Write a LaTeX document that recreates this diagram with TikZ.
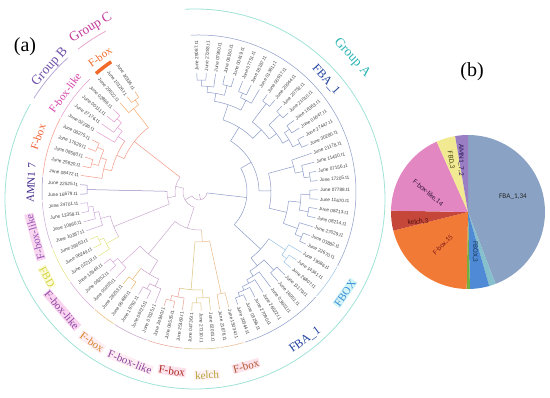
\documentclass[tikz,border=0pt]{standalone}
\usepackage{fontspec}
\setmainfont{Liberation Serif}
\setsansfont{Liberation Sans}
\newfontfamily\piefont{Carlito}

% leaf stem: style, leaf index, parent radius
\newcommand{\lf}[3]{\draw[#1] ({91-4.5*(#2-1)}:#3) -- ({91-4.5*(#2-1)}:\rt);}
% inner node: style, position, parent radius, radius, first child, last child
\newcommand{\nd}[6]{%
  \pgfmathsetmacro\nda{91-4.5*(#5-1)}%
  \pgfmathsetmacro\ndb{91-4.5*(#6-1)}%
  \draw[#1] ({91-4.5*(#2-1)}:#3) -- ({91-4.5*(#2-1)}:#4);
  \draw[#1] (\nda:#4) arc[start angle=\nda, end angle=\ndb, radius=#4];}

\begin{document}
\begin{tikzpicture}[x=1pt, y=1pt, line width=0.5pt,
    leaf/.style={font=\sffamily\fontsize{4.7}{5}\selectfont, text=black!75, inner sep=0pt},
    sublab/.style={font=\fontsize{11}{11}\selectfont, inner sep=0.8pt},
    grouplab/.style={font=\fontsize{13.5}{13.5}\selectfont, inner sep=0pt},
    pielab/.style={font=\piefont\fontsize{7.2}{7.2}\selectfont, inner sep=0pt}]

% --- parameters ---
\def\rt{119}    % leaf tip radius
\def\rl{121}    % leaf label radius
\def\rs{157}    % subfamily arc radius
\def\rg{190}    % group ring radius
\def\pr{77}     % pie radius

% --- colors ---
\definecolor{fbacol}{RGB}{140,155,201}
\definecolor{fboxcol}{RGB}{156,195,230}
\definecolor{tancol}{RGB}{232,184,136}
\definecolor{kelchcol}{RGB}{217,194,122}
\definecolor{fbrcol}{RGB}{232,160,144}
\definecolor{fblcol}{RGB}{201,160,204}
\definecolor{fbocol}{RGB}{235,184,110}
\definecolor{fblpcol}{RGB}{216,168,216}
\definecolor{fbdcol}{RGB}{226,226,130}
\definecolor{fbl2col}{RGB}{200,168,216}
\definecolor{amncol}{RGB}{154,136,192}
\definecolor{fborcol}{RGB}{243,154,134}
\definecolor{fblmcol}{RGB}{227,154,208}
\definecolor{fbtopcol}{RGB}{245,168,106}
\definecolor{innercol}{RGB}{200,170,204}
\definecolor{ringA}{RGB}{160,226,214}
\definecolor{ringB}{RGB}{184,168,216}
\definecolor{ringC}{RGB}{232,168,208}
\definecolor{pinkbg}{RGB}{253,227,236}
% label colors
\definecolor{grpAtxt}{RGB}{43,179,179}
\definecolor{grpBtxt}{RGB}{111,79,168}
\definecolor{grpCtxt}{RGB}{194,57,154}
\definecolor{fbatxt}{RGB}{31,63,159}
\definecolor{fboxtxt}{RGB}{61,143,214}
\definecolor{fboxbg}{RGB}{210,244,246}
\definecolor{fbAtxt}{RGB}{178,85,46}
\definecolor{kelchtxt}{RGB}{181,162,50}
\definecolor{fbBtxt}{RGB}{168,36,31}
\definecolor{fblAtxt}{RGB}{138,63,154}
\definecolor{fbCtxt}{RGB}{217,131,42}
\definecolor{fblBtxt}{RGB}{141,68,163}
\definecolor{fblBbg}{RGB}{249,211,239}
\definecolor{fbdtxt}{RGB}{212,210,60}
\definecolor{fbdbg}{RGB}{251,251,216}
\definecolor{fblCtxt}{RGB}{149,82,181}
\definecolor{fblCbg}{RGB}{249,214,240}
\definecolor{amntxt}{RGB}{63,36,136}
\definecolor{fbDtxt}{RGB}{240,90,42}
\definecolor{fblDtxt}{RGB}{209,61,166}
\definecolor{fbEtxt}{RGB}{242,106,43}
% pie colors
\definecolor{pieFBA}{RGB}{138,162,196}
\definecolor{pieTeal}{RGB}{134,192,204}
\definecolor{pieFBOX}{RGB}{79,138,214}
\definecolor{pieGreen}{RGB}{111,176,64}
\definecolor{pieFbox}{RGB}{240,122,54}
\definecolor{pieKelch}{RGB}{196,71,58}
\definecolor{pieFbl}{RGB}{227,135,195}
\definecolor{pieFBD}{RGB}{242,234,146}
\definecolor{pieAMN}{RGB}{154,126,196}

\useasboundingbox (0,0) rectangle (550,398);

\coordinate (T) at (199,206);   % tree centre
\coordinate (R) at (195,199);   % ring centre
\coordinate (P) at (468,186);   % pie centre

% --- tree ---
\begin{scope}[shift={(T)}]
% FBA_1, upper block
\lf{fbacol}{1}{112} \lf{fbacol}{2}{112} \nd{fbacol}{1.5}{106}{112}{1}{2}
\lf{fbacol}{3}{106} \nd{fbacol}{2.25}{100}{106}{1.5}{3}
\lf{fbacol}{4}{110} \lf{fbacol}{5}{110} \nd{fbacol}{4.5}{100}{110}{4}{5}
\nd{fbacol}{3.375}{92}{100}{2.25}{4.5}
\lf{fbacol}{6}{108} \lf{fbacol}{7}{108} \nd{fbacol}{6.5}{103}{108}{6}{7}
\lf{fbacol}{8}{103} \nd{fbacol}{7.25}{92}{103}{6.5}{8}
\nd{fbacol}{5.3125}{76}{92}{3.375}{7.25}
\lf{fbacol}{9}{111} \lf{fbacol}{10}{111} \nd{fbacol}{9.5}{88}{111}{9}{10}
\lf{fbacol}{11}{112} \lf{fbacol}{12}{112} \nd{fbacol}{11.5}{97}{112}{11}{12}
\lf{fbacol}{13}{110} \lf{fbacol}{14}{110} \nd{fbacol}{13.5}{104}{110}{13}{14}
\lf{fbacol}{15}{112} \lf{fbacol}{16}{112} \nd{fbacol}{15.5}{104}{112}{15}{16}
\nd{fbacol}{14.5}{97}{104}{13.5}{15.5}
\nd{fbacol}{13}{88}{97}{11.5}{14.5}
\nd{fbacol}{11.25}{76}{88}{9.5}{13}
\nd{fbacol}{8.28125}{60}{76}{5.3125}{11.25}
% FBA_1, middle block
\lf{fbacol}{19}{112} \lf{fbacol}{20}{112} \nd{fbacol}{19.5}{106}{112}{19}{20}
\lf{fbacol}{18}{106} \nd{fbacol}{18.75}{98}{106}{18}{19.5}
\lf{fbacol}{17}{98} \nd{fbacol}{17.875}{72}{98}{17}{18.75}
\lf{fbacol}{21}{111} \lf{fbacol}{22}{111} \nd{fbacol}{21.5}{102}{111}{21}{22}
\lf{fbacol}{23}{111} \lf{fbacol}{24}{111} \nd{fbacol}{23.5}{102}{111}{23}{24}
\nd{fbacol}{22.5}{90}{102}{21.5}{23.5}
\lf{fbacol}{26}{112} \lf{fbacol}{27}{112} \nd{fbacol}{26.5}{105}{112}{26}{27}
\lf{fbacol}{25}{105} \nd{fbacol}{25.75}{90}{105}{25}{26.5}
\nd{fbacol}{24.125}{72}{90}{22.5}{25.75}
\nd{fbacol}{21}{60}{72}{17.875}{24.125}
\nd{fbacol}{14.640625}{48}{60}{8.28125}{21}
% FBOX and FBA_1, lower block
\lf{fbacol}{36}{112} \lf{fbacol}{37}{112} \nd{fbacol}{36.5}{108}{112}{36}{37}
\lf{fbacol}{35}{108} \nd{fbacol}{35.75}{104}{108}{35}{36.5}
\lf{fbacol}{34}{104} \nd{fbacol}{34.875}{100}{104}{34}{35.75}
\lf{fbacol}{33}{100} \nd{fbacol}{33.9375}{94}{100}{33}{34.875}
\lf{fbacol}{31}{108} \lf{fbacol}{32}{108} \nd{fbacol}{31.5}{94}{108}{31}{32}
\nd{fbacol}{32.71875}{84}{94}{31.5}{33.9375}
\lf{fboxcol}{29}{110} \lf{fboxcol}{30}{110} \nd{fboxcol}{29.5}{104}{110}{29}{30}
\lf{fboxcol}{28}{104} \nd{fboxcol}{28.75}{84}{104}{28}{29.5}
\nd{fbacol}{30.734375}{48}{84}{28.75}{32.71875}
\nd{fbacol}{22.6875}{8}{48}{14.640625}{30.734375}
% F-box, kelch, F-box
\lf{tancol}{38}{104} \lf{tancol}{39}{104} \nd{tancol}{38.5}{50}{104}{38}{39}
\lf{kelchcol}{41}{111} \lf{kelchcol}{42}{111} \nd{kelchcol}{41.5}{106}{111}{41}{42}
\lf{kelchcol}{40}{106} \nd{kelchcol}{40.75}{98}{106}{40}{41.5}
\lf{fbrcol}{44}{112} \lf{fbrcol}{45}{112} \nd{fbrcol}{44.5}{107}{112}{44}{45}
\lf{fbrcol}{43}{107} \nd{fbrcol}{43.75}{98}{107}{43}{44.5}
\nd{kelchcol}{42.25}{50}{98}{40.75}{43.75}
\nd{tancol}{40.375}{38}{50}{38.5}{42.25}
% F-box-like, F-box, F-box-like
\lf{fblcol}{47}{110} \lf{fblcol}{48}{110} \nd{fblcol}{47.5}{104}{110}{47}{48}
\lf{fblcol}{46}{104} \nd{fblcol}{46.75}{96}{104}{46}{47.5}
\lf{fbocol}{49}{110} \lf{fbocol}{50}{110} \nd{fbocol}{49.5}{96}{110}{49}{50}
\nd{fblcol}{48.125}{80}{96}{46.75}{49.5}
\lf{fblpcol}{52}{111} \lf{fblpcol}{53}{111} \nd{fblpcol}{52.5}{105}{111}{52}{53}
\lf{fblpcol}{51}{105} \nd{fblpcol}{51.75}{80}{105}{51}{52.5}
\nd{innercol}{49.9375}{38}{80}{48.125}{51.75}
\nd{innercol}{45.15625}{16}{38}{40.375}{49.9375}
% FBD, F-box-like, AMN1 7
\lf{fbdcol}{55}{111} \lf{fbdcol}{56}{111} \nd{fbdcol}{55.5}{106}{111}{55}{56}
\lf{fbdcol}{54}{106} \nd{fbdcol}{54.75}{92}{106}{54}{55.5}
\lf{fbl2col}{59}{112} \lf{fbl2col}{60}{112} \nd{fbl2col}{59.5}{107}{112}{59}{60}
\lf{fbl2col}{58}{107} \nd{fbl2col}{58.75}{102}{107}{58}{59.5}
\lf{fbl2col}{57}{102} \nd{fbl2col}{57.875}{92}{102}{57}{58.75}
\nd{innercol}{56.3125}{32}{92}{54.75}{57.875}
\lf{amncol}{61}{112} \lf{amncol}{62}{112} \nd{amncol}{61.5}{32}{112}{61}{62}
\nd{innercol}{58.90625}{24}{32}{56.3125}{61.5}
% F-box, F-box-like, F-box (upper left)
\lf{fborcol}{64}{111} \lf{fborcol}{65}{111} \nd{fborcol}{64.5}{104}{111}{64}{65}
\lf{fborcol}{66}{111} \lf{fborcol}{67}{111} \nd{fborcol}{66.5}{104}{111}{66}{67}
\nd{fborcol}{65.5}{98}{104}{64.5}{66.5}
\lf{fborcol}{63}{98} \nd{fborcol}{64.25}{90}{98}{63}{65.5}
\lf{fblmcol}{70}{110} \lf{fblmcol}{71}{110} \nd{fblmcol}{70.5}{104}{110}{70}{71}
\lf{fblmcol}{69}{104} \nd{fblmcol}{69.75}{98}{104}{69}{70.5}
\lf{fblmcol}{68}{98} \nd{fblmcol}{68.875}{90}{98}{68}{69.75}
\nd{fborcol}{66.5625}{82}{90}{64.25}{68.875}
\lf{fbtopcol}{73}{112} \lf{fbtopcol}{74}{112} \nd{fbtopcol}{73.5}{106}{112}{73}{74}
\lf{fbtopcol}{72}{106} \nd{fbtopcol}{72.75}{82}{106}{72}{73.5}
\nd{fborcol}{69.65625}{24}{82}{66.5625}{72.75}
\nd{innercol}{64.28125}{16}{24}{58.90625}{69.65625}
\nd{innercol}{54.71875}{8}{16}{45.15625}{64.28125}
% root
\nd{innercol}{38.703125}{2}{8}{22.6875}{54.71875}

% --- leaf labels ---
\foreach \i/\nm in {1/29087, 2/27283, 3/07950, 4/06150, 5/00419, 6/07751,
    7/18187, 8/01361, 9/00917, 10/20044, 11/20752, 12/21010, 13/16363,
    14/01647, 15/27447, 16/30280, 17/21178, 18/11450, 19/07156, 20/17205,
    21/07788, 22/11670, 23/08213, 24/08214, 25/27029, 26/03882, 27/22670,
    28/19086, 29/14341, 30/26807, 31/11179, 32/16951, 33/03603, 34/26522,
    35/27090, 36/03256, 37/20344, 38/15034, 39/21676, 40/02001, 41/27110,
    42/04736, 43/25169, 44/06535, 45/24940, 46/07025, 47/06725, 48/19792,
    49/06480, 50/28253, 51/00205, 52/06252, 53/12646, 54/02219, 55/06249,
    56/26663, 57/10387, 58/10960, 59/13358, 60/24701, 61/16679, 62/22525,
    63/08472, 64/25820, 65/08583, 66/17629, 67/08275, 68/02236, 69/27176,
    70/00111, 71/02866, 72/29522, 73/10126, 74/30336} {
    \pgfmathsetmacro\ang{91-4.5*(\i-1)}
    \pgfmathparse{\ang > -91 ? 1 : 0}
    \ifdim\pgfmathresult pt > 0.5pt
        \node[leaf, anchor=west, rotate=\ang] (leaf\i) at (\ang:\rl) {June \nm.t1};
    \else
        \node[leaf, anchor=east, rotate=\ang+180] (leaf\i) at (\ang:\rl) {June \nm.t1};
    \fi
}

% --- subfamily arcs ---
\foreach \a/\b/\c in {1/27/fbacol, 28/30/fboxcol, 31/37/fbacol, 38/39/tancol,
    40/42/kelchcol, 43/45/fbrcol, 46/48/fblcol, 49/50/fbocol, 51/53/fblpcol,
    54/56/fbdcol, 57/60/fbl2col, 61/62/amncol, 63/67/fborcol, 68/71/fblmcol} {
    \pgfmathsetmacro\sa{93-4.5*(\a-1)}
    \pgfmathsetmacro\sb{89-4.5*(\b-1)}
    \draw[\c] (\sa:\rs) arc[start angle=\sa, end angle=\sb, radius=\rs];
}
\draw[fbEtxt, line width=3.5pt] (124:\rs) arc[start angle=124, end angle=131, radius=\rs];
\end{scope}

% --- group ring ---
\draw[ringA, line width=0.8pt] (R) ++(93:\rg) arc[start angle=93, end angle=-210, radius=\rg];
\draw[ringB, line width=0.8pt] (R) ++(148:\rg) arc[start angle=148, end angle=132, radius=\rg];
\draw[ringC, line width=0.8pt] (R) ++(128:\rg) arc[start angle=128, end angle=118, radius=\rg];

% --- group labels ---
\node[grouplab, text=grpAtxt, rotate=-48] (grpA) at (352,340) {Group A};
\node[grouplab, text=grpBtxt, rotate=48] (grpB) at (50,331) {Group B};
\node[grouplab, text=grpCtxt, rotate=31] (grpC) at (91,370) {Group C};

% --- subfamily labels ---
\node[sublab, font=\fontsize{12}{12}\selectfont, text=fbatxt, rotate=-48.6] (labFBAa) at (326,318) {FBA\_1};
\node[sublab, text=fboxtxt, fill=fboxbg, rotate=55] (labFBOX) at (345,105) {FBOX};
\node[sublab, font=\fontsize{12}{12}\selectfont, text=fbatxt, rotate=36] (labFBAb) at (305,58) {FBA\_1};
\node[sublab, text=fbAtxt, fill=pinkbg, rotate=15] (labFbA) at (246,32) {F-box};
\node[sublab, text=kelchtxt, fill=pinkbg!50, rotate=2.5] (labKelch) at (207,23) {kelch};
\node[sublab, text=fbBtxt, fill=pinkbg, rotate=-8.6] (labFbB) at (172,27) {F-box};
\node[sublab, text=fblAtxt, fill=pinkbg!60, rotate=-22] (labFblA) at (130,36) {F-box-like};
\node[sublab, text=fbCtxt, fill=pinkbg!60, rotate=-35.5] (labFbC) at (92,56) {F-box};
\node[sublab, text=fblBtxt, fill=fblBbg, rotate=-49] (labFblB) at (62,88) {F-box-like};
\node[sublab, text=fbdtxt, fill=fbdbg, rotate=-60.8] (labFBD) at (47,121) {FBD};
\node[sublab, text=fblCtxt, fill=fblCbg, rotate=105.3] (labFblC) at (35,161) {F-box-like};
\node[sublab, text=amntxt, rotate=87] (labAMN) at (31,215) {AMN1 7};
\node[sublab, text=fbDtxt, rotate=71] (labFbD) at (38,261) {F-box};
\node[sublab, text=fblDtxt, rotate=53.5] (labFblD) at (65,305) {F-box-like};
\node[sublab, text=fbEtxt, rotate=36] (labFbE) at (100,341) {F-box};

% --- panel letters ---
\node[font=\fontsize{20}{20}\selectfont] (pa) at (25,351) {(a)};
\node[font=\fontsize{20}{20}\selectfont] (pb) at (472,326) {(b)};

% --- pie ---
\foreach \s/\e/\c in {90/-69/pieFBA, -69/-74/pieTeal, -74/-88.5/pieFBOX,
    -88.5/-91/pieGreen, -91/-166/pieFbox, -166/-181/pieKelch,
    -181/-246/pieFbl, -246/-260.4/pieFBD, -260.4/-270/pieAMN} {
    \fill[\c] (P) -- ++(\s:\pr) arc[start angle=\s, end angle=\e, radius=\pr] -- cycle;
}

% --- pie labels ---
\node[pielab, text=black!85] (pFBA) at (513,201) {FBA\_1,34};
\node[pielab, text=fboxtxt!40!black, rotate=-90] (pFBOX) at (475,146) {FBOX,3};
\node[pielab, text=fbBtxt!80!black, rotate=45] (pFbox) at (443,153) {F-box,15};
\node[pielab, text=fbBtxt!50!black, rotate=5] (pKelch) at (418,176) {kelch,3};
\node[pielab, text=fblAtxt!40!black, rotate=-40] (pFbl) at (428,205) {F-box-like,14};
\node[pielab, text=fbdtxt!30!black, rotate=-80] (pFBD) at (451,238) {FBD,3};
\node[pielab, text=amntxt!60!black, rotate=-90] (pAMN) at (461,238) {AMN1\_7,2};

\end{tikzpicture}
\end{document}
